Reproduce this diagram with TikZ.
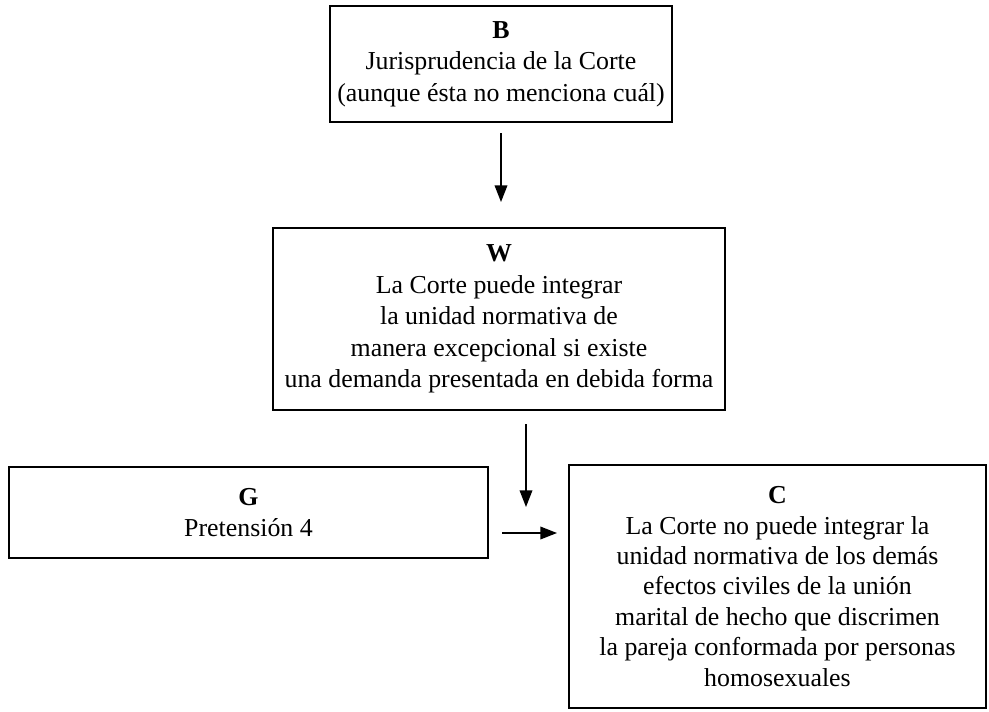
\documentclass[tikz,border=0pt]{standalone}
\usepackage{fontspec}
\setmainfont{Liberation Serif}
\usetikzlibrary{arrows.meta}
\begin{document}
\begin{tikzpicture}[x=0.75pt,y=-0.75pt,
  box/.style={draw,line width=1.5pt,inner sep=0pt,outer sep=0pt,align=center,
    font=\fontsize{19.4}{23.6}\selectfont},
  arr/.style={line width=1.1pt,-{Triangle[length=12.5pt,width=9.5pt]}}]
\useasboundingbox (0,0) rectangle (989,711);
\node[box,minimum width={342*0.75pt},minimum height={116*0.75pt}] (B) at (501,64)
  {\textbf{B}\\Jurisprudencia de la Corte\\(aunque ésta no menciona cuál)};
\node[box,minimum width={452*0.75pt},minimum height={182*0.75pt}] (W) at (499,319)
  {\textbf{W}\\La Corte puede integrar\\la unidad normativa de\\manera excepcional si existe\\una demanda presentada en debida forma};
\node[box,minimum width={479*0.75pt},minimum height={91*0.75pt}] (G) at (248.5,512.5)
  {\textbf{G}\\Pretensión 4};
\node[box,minimum width={417*0.75pt},minimum height={243*0.75pt},
  font=\fontsize{19.4}{22.8}\selectfont] (C) at (777.5,586.5)
  {\textbf{C}\\La Corte no puede integrar la\\unidad normativa de los demás\\efectos civiles de la unión\\marital de hecho que discrimen\\la pareja conformada por personas\\homosexuales};
\coordinate (j) at (526,507);
\coordinate (h) at (0,533);
\draw[arr,shorten <=8.25pt,shorten >=19.5pt] (B.south) -- (B.south |- W.north);
\draw[arr,shorten <=10.5pt] (j |- W.south) -- (j);
\draw[arr,shorten <=10.5pt,shorten >=9pt] (G.east |- h) -- (C.west |- h);
\end{tikzpicture}
\end{document}
